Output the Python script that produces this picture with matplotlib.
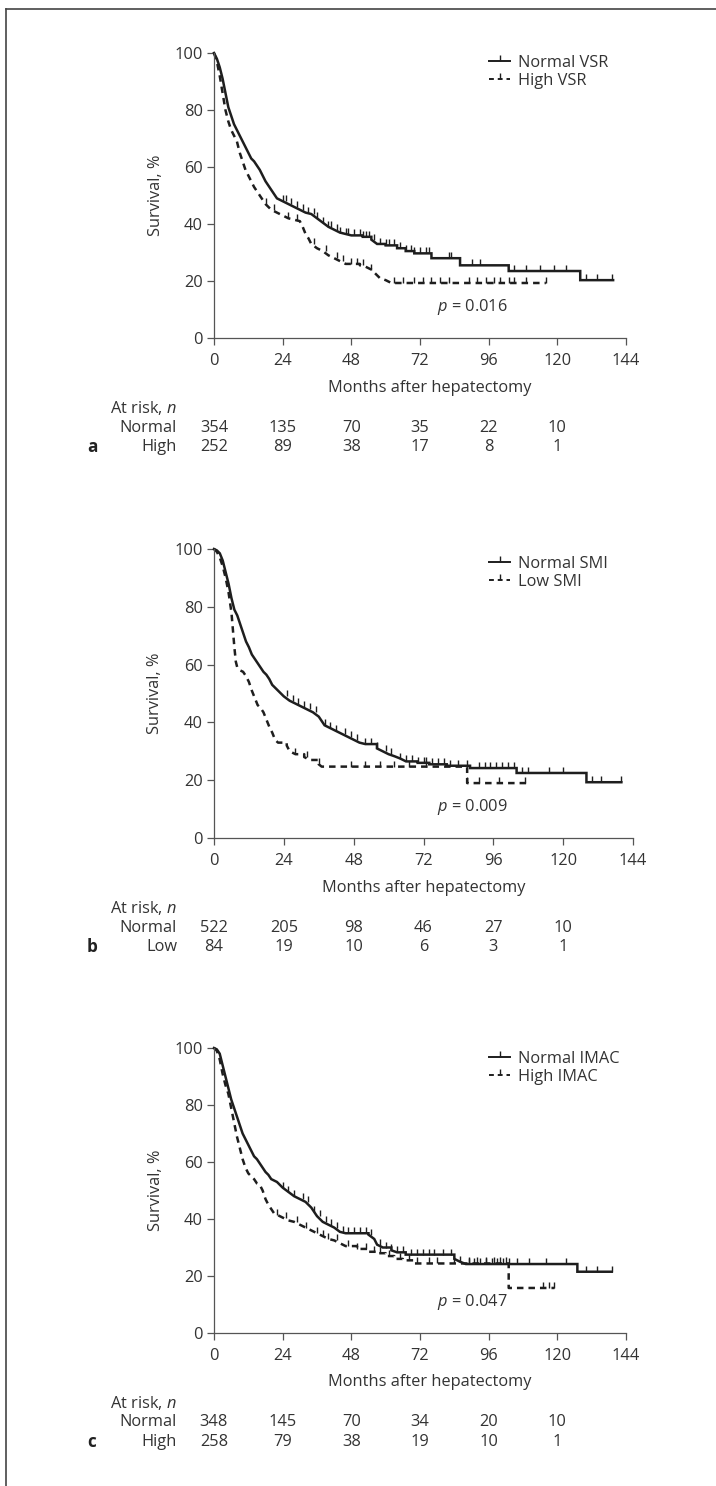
import numpy as np
import matplotlib
matplotlib.use("Agg")
import matplotlib.pyplot as plt
from matplotlib.lines import Line2D
from matplotlib import transforms

plt.rcParams['font.family'] = ['Open Sans', 'DejaVu Sans']
plt.rcParams['mathtext.fontset'] = 'custom'
plt.rcParams['mathtext.rm'] = 'Open Sans'
plt.rcParams['mathtext.it'] = 'Open Sans:italic'

# ---------------- data ----------------
xticks = [0, 24, 48, 72, 96, 120, 144]
risk_times = [0, 24, 48, 72, 96, 120]

# Panel a (VSR)
a_norm_t = [0, 1, 2, 3, 4, 5, 6, 7, 8, 9, 10, 11, 12, 13, 14, 15, 16, 17, 18, 19, 20, 21, 22, 24, 26, 28, 30, 32, 34, 36, 38, 40, 42, 44, 46, 48, 52, 55, 57, 60, 64, 67, 70, 76, 86, 103, 128]
a_norm_s = [100, 98, 95, 91, 86, 81, 78, 75, 73, 71, 69, 67, 65, 63, 62, 60.5, 59, 57, 55, 53.5, 52, 50.5, 49, 48, 47, 46, 45, 44, 43.5, 42, 40.5, 39, 38, 37, 36.5, 36, 35.5, 34.5, 33, 32.5, 31.5, 30.5, 29.7, 28, 25.5, 23.5, 20.3]
a_norm_end = 139.5
a_norm_cens = [24, 25, 27, 29, 31, 33, 35, 36, 38, 40, 41, 43, 44, 46, 47, 49, 51, 52, 53, 54, 56, 58, 60, 61, 63, 65, 67, 69, 70, 72, 74, 75, 82, 83, 90, 93, 105, 109, 114, 119, 123, 130, 134, 139]
a_high_t = [0, 1, 2, 3, 4, 5, 6, 7, 8, 9, 10, 11, 12, 13, 14, 15, 16, 17, 18, 19, 20, 22, 24, 26, 28, 30, 31, 32, 33, 34, 36, 38, 40, 42, 44, 46, 51, 53, 55, 57, 58, 60, 62]
a_high_s = [100, 97, 92, 86, 80, 76, 73, 71, 69, 65, 62, 59, 57, 55, 53, 51.5, 50, 48.5, 47, 46, 45, 44, 43, 42, 41.5, 41, 39, 36.5, 35, 33, 31.5, 30.5, 29, 28, 27, 26, 25.5, 25, 24, 22, 21, 20.3, 19.3]
a_high_end = 116
a_high_cens = [18, 21, 26, 29, 35, 39, 43, 45, 48, 50, 52, 55, 63, 66, 70, 73, 76, 79, 82, 89, 92, 95, 98, 100, 103, 105, 109, 116]
a_labels = ['Normal VSR', 'High VSR']
a_rows = ['Normal', 'High']
a_risk_norm = [354, 135, 70, 35, 22, 10]
a_risk_other = [252, 89, 38, 17, 8, 1]
a_p = '0.016'

# Panel b (SMI)
b_norm_t = [0, 1, 2, 3, 4, 5, 6, 7, 8, 9, 10, 11, 12, 13, 14, 15, 16, 17, 18, 19, 20, 21, 22, 24, 26, 28, 30, 32, 34, 36, 37, 38, 40, 42, 44, 46, 48, 50, 52, 56, 58, 60, 62, 64, 66, 70, 74, 80, 88, 104, 128]
b_norm_s = [100, 99.5, 98.5, 96, 92, 88, 83, 79, 77, 74, 71, 68, 66, 63.5, 62, 60.5, 59, 57.5, 56.5, 55, 53, 52, 51, 49, 47.5, 46.5, 45.5, 44.5, 43.5, 42, 40.5, 39, 38, 37, 36, 35, 34, 33, 32.5, 31, 30, 29, 28.3, 27.5, 26.5, 26, 25.5, 25, 24.2, 22.5, 19.3]
b_norm_end = 140
b_norm_cens = [25, 27, 29, 31, 33, 35, 38, 40, 42, 45, 47, 49, 52, 54, 56, 59, 61, 64, 66, 68, 70, 72, 73, 75, 77, 79, 81, 84, 87, 91, 93, 95, 97, 99, 101, 103, 106, 108, 115, 120, 130, 133, 140]
b_low_t = [0, 1, 2, 3, 4, 5, 6, 6.5, 7, 7.5, 8, 9, 10, 11, 12, 13, 14, 15, 16, 17, 18, 19, 20, 21, 22, 25, 26, 28, 31, 33, 36, 37, 87]
b_low_s = [100, 99, 97, 94, 90, 85, 78, 72, 66, 61, 59, 58, 57.5, 56, 54, 51, 48.5, 46, 45, 43.5, 41, 38.5, 36.5, 34, 33, 32, 30, 29, 28, 27, 25.5, 24.7, 19]
b_low_end = 107.5
b_low_cens = [28, 32, 36, 47, 52, 57, 62, 67, 73, 87, 91, 98, 107]
b_labels = ['Normal SMI', 'Low SMI']
b_rows = ['Normal', 'Low']
b_risk_norm = [522, 205, 98, 46, 27, 10]
b_risk_other = [84, 19, 10, 6, 3, 1]
b_p = '0.009'

# Panel c (IMAC)
c_norm_t = [0, 1, 2, 3, 4, 5, 6, 7, 8, 9, 10, 11, 12, 13, 14, 15, 16, 17, 18, 19, 20, 22, 24, 26, 28, 30, 32, 34, 35, 36, 38, 40, 42, 44, 46, 54, 56, 57, 59, 62, 64, 67, 84, 86, 88, 127]
c_norm_s = [100, 99.5, 98, 94, 90, 86, 82, 79, 76, 73, 70, 68, 66, 64, 62, 61, 59.5, 58, 56.5, 55.5, 54, 53, 51, 49.5, 48, 47, 46, 44, 42.5, 41, 39, 38, 37, 35.5, 35, 34.5, 33, 31, 30, 29, 28.3, 27.5, 26, 25, 24.2, 21.5]
c_norm_end = 139
c_norm_cens = [24, 26, 28, 31, 33, 35, 37, 39, 41, 43, 45, 47, 49, 51, 53, 55, 58, 60, 62, 64, 66, 69, 71, 73, 75, 77, 80, 83, 86, 89, 91, 93, 95, 97, 99, 101, 103, 106, 110, 116, 123, 130, 134, 139]
c_high_t = [0, 1, 2, 3, 4, 5, 6, 7, 8, 9, 10, 11, 12, 13, 14, 15, 16, 17, 18, 19, 20, 21, 22, 24, 26, 28, 30, 32, 34, 36, 38, 40, 42, 44, 46, 50, 54, 57, 60, 63, 66, 70, 103]
c_high_s = [100, 99, 96, 91, 87, 84, 79, 74, 69, 65, 61, 58, 56, 55, 54, 52.5, 52, 50, 47, 45, 43.5, 42, 41.5, 40.5, 39.5, 39, 38, 37, 36, 35, 34, 33, 32.5, 31.5, 30.5, 29.5, 28.5, 28, 27, 26, 25.5, 24.4, 15.8]
c_high_end = 119
c_high_cens = [22, 25, 29, 32, 36, 38, 40, 43, 47, 50, 53, 56, 58, 61, 65, 68, 71, 75, 78, 84, 89, 92, 95, 98, 100, 102, 115, 117, 119]
c_labels = ['Normal IMAC', 'High IMAC']
c_rows = ['Normal', 'High']
c_risk_norm = [348, 145, 70, 34, 20, 10]
c_risk_other = [258, 79, 38, 19, 10, 1]
c_p = '0.047'

# ---------------- layout ----------------
W, H = 716, 1486
fig = plt.figure(figsize=(W / 100, H / 100), dpi=100)
TXT = '#333333'
LINE = '#1e1e1e'
FS = 11.8


def fx(x):
    return x / W


def fy(y):
    return 1 - y / H


tick_up = [(0, 0), (0, 1)]

panels = [
    dict(box=(214, 626, 53, 338), letter='a',
         nt=a_norm_t, ns=a_norm_s, ne=a_norm_end, nc=a_norm_cens,
         ot=a_high_t, os=a_high_s, oe=a_high_end, oc=a_high_cens,
         labels=a_labels, rows=a_rows, rn=a_risk_norm, ro=a_risk_other, p=a_p, leg_y=62, p_y=307, xl=430),
    dict(box=(214, 633, 549, 838), letter='b',
         nt=b_norm_t, ns=b_norm_s, ne=b_norm_end, nc=b_norm_cens,
         ot=b_low_t, os=b_low_s, oe=b_low_end, oc=b_low_cens,
         labels=b_labels, rows=b_rows, rn=b_risk_norm, ro=b_risk_other, p=b_p, leg_y=563, p_y=807, xl=424),
    dict(box=(214, 626, 1048, 1333), letter='c',
         nt=c_norm_t, ns=c_norm_s, ne=c_norm_end, nc=c_norm_cens,
         ot=c_high_t, os=c_high_s, oe=c_high_end, oc=c_high_cens,
         labels=c_labels, rows=c_rows, rn=c_risk_norm, ro=c_risk_other, p=c_p, leg_y=1058, p_y=1302, xl=430),
]


def step_value(times, surv, t):
    i = np.searchsorted(np.asarray(times), t, side='right') - 1
    return np.asarray(surv)[max(i, 0)]


def km_path(times, surv, end):
    """Dense early events are joined directly (many tiny steps), sparse ones as steps."""
    xs, ys = [times[0]], [surv[0]]
    for i in range(1, len(times)):
        if times[i] - times[i - 1] > 2.1:
            xs.append(times[i]); ys.append(surv[i - 1])
        xs.append(times[i]); ys.append(surv[i])
    xs.append(end); ys.append(surv[-1])
    return xs, ys


for P in panels:
    x0, x1, y0, y1 = P['box']
    ax = fig.add_axes([fx(x0), fy(y1), (x1 - x0) / W, (y1 - y0) / H])
    ax.set_xlim(0, 144)
    ax.set_ylim(0, 100)
    for s in ['top', 'right']:
        ax.spines[s].set_visible(False)
    for s in ['left', 'bottom']:
        ax.spines[s].set_color('#555555')
        ax.spines[s].set_linewidth(0.9)
    ax.set_xticks(xticks)
    ax.set_yticks([0, 20, 40, 60, 80, 100])
    ax.tick_params(direction='out', length=5, width=0.9, color='#555555',
                   labelsize=FS, labelcolor=TXT)
    ax.tick_params(axis='x', pad=6)
    ax.tick_params(axis='y', pad=3)
    ax.set_ylabel('Survival, %', fontsize=FS, color=TXT)
    ax.yaxis.set_label_coords(-0.122, 0.5)

    # curves
    for t, s, e, c, ls in [(P['nt'], P['ns'], P['ne'], P['nc'], '-'),
                           (P['ot'], P['os'], P['oe'], P['oc'], '--')]:
        xs, ys = km_path(t, s, e)
        kw = dict(color=LINE, lw=1.8, clip_on=False, solid_joinstyle='miter')
        if ls == '--':
            kw['dashes'] = (2.6, 2.0)
        ax.plot(xs, ys, **kw)
        cy = [step_value(t, s, ci) for ci in c]
        ax.plot(c, cy, ls='none', marker=tick_up, markersize=8,
                markeredgewidth=1.0, color=LINE, clip_on=False)

    # legend
    handles = [Line2D([], [], color=LINE, lw=1.4, marker=tick_up, markersize=9, markeredgewidth=1.0),
               Line2D([], [], color=LINE, lw=1.4, dashes=(2.5, 2.0), marker=tick_up, markersize=9,
                      markeredgewidth=1.0)]
    leg = ax.legend(handles, P['labels'], loc='center left',
                    bbox_to_anchor=(fx(489), fy(P['leg_y'] + 10)), bbox_transform=fig.transFigure,
                    frameon=False, fontsize=FS, handlelength=1.3, handletextpad=0.45,
                    labelspacing=0.1, borderpad=0, borderaxespad=0, numpoints=1)
    for txt in leg.get_texts():
        txt.set_color(TXT)

    # p value
    bt = transforms.blended_transform_factory(ax.transData, fig.transFigure)
    fig.text(fx(437), fy(P['p_y']), '$p$ = ' + P['p'], fontsize=FS, color=TXT,
             va='center', ha='left')

    # x label
    fig.text(fx(P['xl']), fy(y1 + 49.5), 'Months after hepatectomy', fontsize=FS,
             color=TXT, ha='center', va='center')

    # at risk table
    fig.text(fx(177), fy(y1 + 70), 'At risk, $n$', fontsize=FS, color=TXT, ha='right', va='center')
    fig.text(fx(177), fy(y1 + 89.5), P['rows'][0], fontsize=FS, color=TXT, ha='right', va='center')
    fig.text(fx(177), fy(y1 + 109), P['rows'][1], fontsize=FS, color=TXT, ha='right', va='center')
    fig.text(fx(92), fy(y1 + 109), P['letter'], fontsize=FS + 0.5, color='#222222',
             ha='center', va='center', weight='bold')
    for tm, v1, v2 in zip(risk_times, P['rn'], P['ro']):
        ax.text(tm, fy(y1 + 89.5), str(v1), transform=bt, fontsize=FS, color=TXT,
                ha='center', va='center')
        ax.text(tm, fy(y1 + 109), str(v2), transform=bt, fontsize=FS, color=TXT,
                ha='center', va='center')

# frame lines
fig.add_artist(Line2D([fx(6), fx(6)], [fy(9), 0], transform=fig.transFigure, color='#444444', lw=1.2))
fig.add_artist(Line2D([fx(6), 1], [fy(9), fy(9)], transform=fig.transFigure, color='#444444', lw=1.2))

fig.savefig('out.png', dpi=100)
